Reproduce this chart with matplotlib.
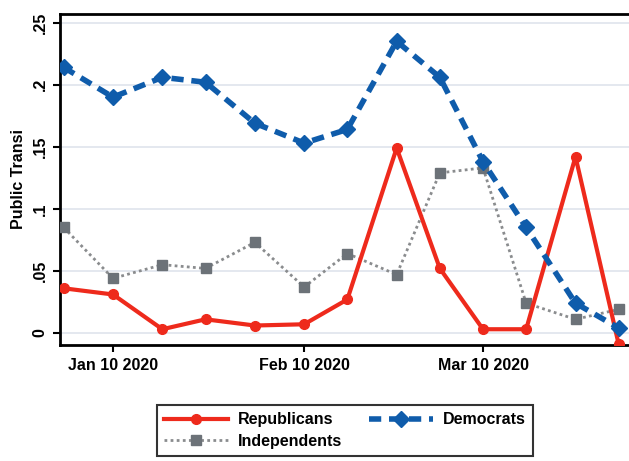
# -*- coding: utf-8 -*-
# Public transit - trend po partijama (Stata-like grafik)

import numpy as np
import matplotlib
matplotlib.use('Agg')
import matplotlib.pyplot as plt
import matplotlib.dates as mdates
import datetime as dt

# %% podaci

datumi = ['2020-01-02', '2020-01-10', '2020-01-18', '2020-01-25', '2020-02-02',
          '2020-02-10', '2020-02-17', '2020-02-25', '2020-03-03', '2020-03-10',
          '2020-03-17', '2020-03-25', '2020-04-01']

republicans  = [0.036, 0.031, 0.003, 0.011, 0.006, 0.007, 0.027, 0.149, 0.052, 0.003, 0.003, 0.142, -0.009]
independents = [0.085, 0.044, 0.055, 0.052, 0.073, 0.037, 0.064, 0.047, 0.129, 0.133, 0.024, 0.011, 0.019]
democrats    = [0.214, 0.190, 0.206, 0.202, 0.169, 0.153, 0.164, 0.235, 0.206, 0.138, 0.085, 0.024, 0.004]

y_ticks  = [0, 0.05, 0.1, 0.15, 0.2, 0.25]
y_labels = ['0', '.05', '.1', '.15', '.2', '.25']
x_ticks  = ['2020-01-10', '2020-02-10', '2020-03-10']
x_labels = ['Jan 10 2020', 'Feb 10 2020', 'Mar 10 2020']

x = [dt.datetime.strptime(d, '%Y-%m-%d') for d in datumi]
xt = [dt.datetime.strptime(d, '%Y-%m-%d') for d in x_ticks]

# %% grafik

plt.rcParams['font.family'] = ['Liberation Sans', 'DejaVu Sans']
plt.rcParams['font.weight'] = 'bold'

FS = 11.5

W, H = 629, 461
fig = plt.figure(figsize=(W / 100, H / 100), dpi=100)
fig.patch.set_facecolor('white')

# osa ide preko desne ivice slike (kao na slikanom originalu)
ax = fig.add_axes([60 / W, (H - 345) / H, (690 - 60) / W, (345 - 14) / H])

RED  = '#ee2a1c'
BLUE = '#0f5cab'
GRAY = '#8a8c8e'

ax.plot(x, republicans, color=RED, linewidth=3, marker='o', markersize=7,
        label='Republicans', zorder=4)
ax.plot(x, independents, color=GRAY, linewidth=2, linestyle=(0, (1, 1.2)),
        marker='s', markersize=6.5, markerfacecolor='#6c7278', markeredgecolor='#6c7278',
        label='Independents', zorder=3)
ax.plot(x, democrats, color=BLUE, linewidth=4, linestyle=(0, (2.2, 1.4)),
        marker='D', markersize=8, label='Democrats', zorder=5)

# skala: Jan 10 na 113px, Mar 10 na 483px
jan10 = mdates.date2num(xt[0])
mar10 = mdates.date2num(xt[2])
px_per_day = (483 - 113) / (mar10 - jan10)
ax.set_xlim(jan10 - (113 - 60) / px_per_day, jan10 + (690 - 113) / px_per_day)
ax.set_ylim(-0.0097, 0.257)

ax.set_yticks(y_ticks)
ax.set_yticklabels(y_labels, rotation=90, va='center', fontsize=FS)
ax.set_xticks(xt)
ax.set_xticklabels(x_labels, fontsize=FS)
ax.tick_params(axis='both', direction='out', length=5, width=1.5, color='black')
ax.tick_params(axis='y', pad=4)
ax.tick_params(axis='x', pad=4)

ax.set_ylabel('Public Transi', fontsize=FS, fontweight='bold', labelpad=5)

ax.grid(axis='y', color='#dfe4ec', linewidth=1.2)
ax.grid(axis='x', visible=False)
ax.set_axisbelow(True)

for s in ['left', 'bottom', 'top', 'right']:
    ax.spines[s].set_linewidth(2)
    ax.spines[s].set_color('black')

# legenda
handles, labels = ax.get_legend_handles_labels()
leg = fig.legend(handles, labels,
                 ncol=2, loc='upper left', bbox_to_anchor=(157 / W, 1 - 405 / H),
                 fontsize=FS, frameon=True, fancybox=False, edgecolor='black',
                 handlelength=4.0, columnspacing=1.7, handletextpad=0.6,
                 borderpad=0.45, labelspacing=0.4, borderaxespad=0)
leg.get_frame().set_linewidth(1.5)

plt.savefig('out.png', dpi=100, facecolor='white')
